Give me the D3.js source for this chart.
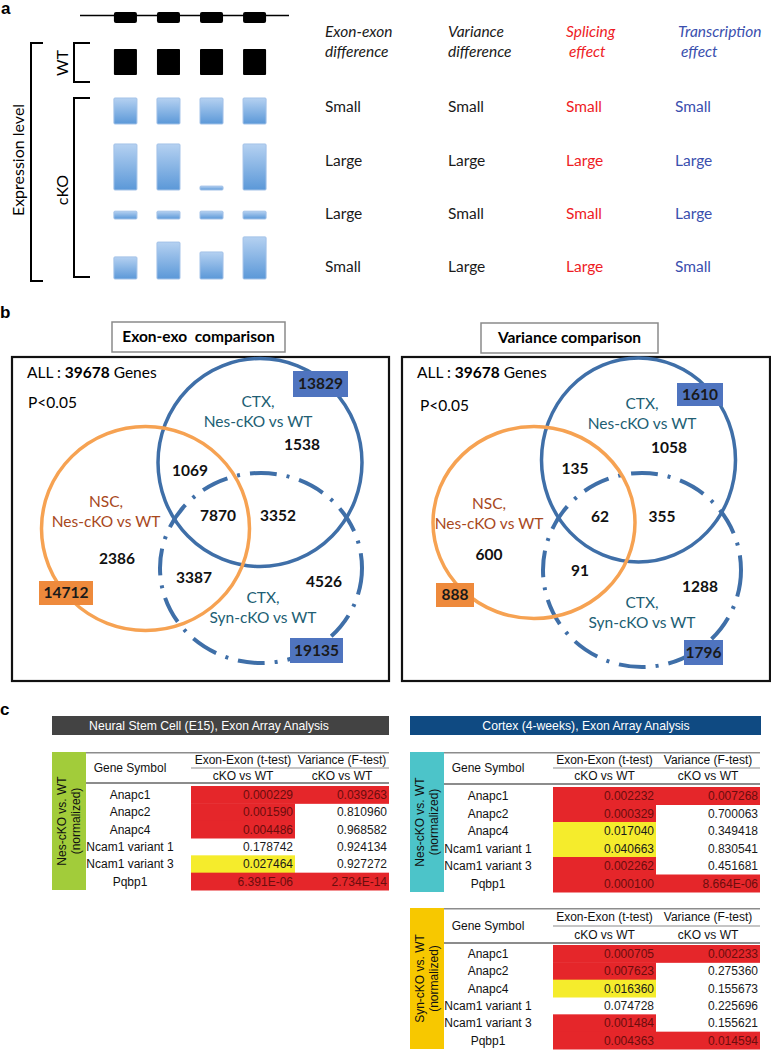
<!DOCTYPE html>
<html><head><meta charset="utf-8">
<script src="https://cdn.jsdelivr.net/npm/d3@7"></script>
<style>body{margin:0;background:#fff} svg{display:block}</style>
</head><body>
<svg id="fig" width="771" height="1050"></svg>
<script>
// ================= DATA =================
// Panel a: exon expression levels (relative units)
const exons = ["E1", "E2", "E3", "E4"];
const wtLevels = [1, 1, 1, 1];
const ckoRow1 = [1, 1, 1, 1];
const ckoRow2 = [1.77, 1.77, 0.15, 1.77];
const ckoRow3 = [0.3, 0.3, 0.3, 0.3];
const ckoRow4 = [0.85, 1.42, 1.04, 1.62];
const effectHeaders = [["Exon-exon", "difference"], ["Variance", "difference"], ["Splicing", "effect"], ["Transcription", "effect"]];
const exonDiff = ["Small", "Large", "Large", "Small"];
const varianceDiff = ["Small", "Large", "Small", "Large"];
const splicingEffect = ["Small", "Large", "Small", "Large"];
const transcriptionEffect = ["Small", "Large", "Large", "Small"];

// Panel b: Venn diagrams
const totalGenes = "39678";
const pThreshold = "P<0.05";
const setNames = [["NSC,", "Nes-cKO vs WT"], ["CTX,", "Nes-cKO vs WT"], ["CTX,", "Syn-cKO vs WT"]];
const regionKeys = ["NSC", "Nes", "Syn", "NSC&Nes", "Nes&Syn", "NSC&Syn", "All"];
const exonRegionCounts = [2386, 1538, 4526, 1069, 3352, 3387, 7870];
const exonSetTotals = [14712, 13829, 19135];
const varRegionCounts = [600, 1058, 1288, 135, 355, 91, 62];
const varSetTotals = [888, 1610, 1796];

// Panel c: tables
const genes = ["Anapc1", "Anapc2", "Anapc4", "Ncam1 variant 1", "Ncam1 variant 3", "Pqbp1"];
const nscExon = ["0.000229", "0.001590", "0.004486", "0.178742", "0.027464", "6.391E-06"];
const nscExonHi = ["r", "r", "r", "", "y", "r"];
const nscVar = ["0.039263", "0.810960", "0.968582", "0.924134", "0.927272", "2.734E-14"];
const nscVarHi = ["r", "", "", "", "", "r"];
const nesExon = ["0.002232", "0.000329", "0.017040", "0.040663", "0.002262", "0.000100"];
const nesExonHi = ["r", "r", "y", "y", "r", "r"];
const nesVar = ["0.007268", "0.700063", "0.349418", "0.830541", "0.451681", "8.664E-06"];
const nesVarHi = ["r", "", "", "", "", "r"];
const synExon = ["0.000705", "0.007623", "0.016360", "0.074728", "0.001484", "0.004363"];
const synExonHi = ["r", "r", "y", "", "r", "r"];
const synVar = ["0.002233", "0.275360", "0.155673", "0.225696", "0.155621", "0.014594"];
const synVarHi = ["r", "", "", "", "", "r"];

// ================= DRAWING =================
const svg = d3.select("#fig");
const CAL = "Lato, 'Open Sans', sans-serif";
const ARI = "'Liberation Sans', Arial, sans-serif";
const defs = svg.append("defs");
const grad = defs.append("linearGradient").attr("id", "blueGrad").attr("x1", 0).attr("y1", 0).attr("x2", 0).attr("y2", 1);
grad.append("stop").attr("offset", "0%").attr("stop-color", "#b5d1f1");
grad.append("stop").attr("offset", "100%").attr("stop-color", "#5b98d8");

// panel letters
[["a", 1, 14], ["b", 0, 318], ["c", 0, 715]].forEach(([t, x, y]) =>
  svg.append("text").attr("x", x).attr("y", y).text(t)
    .attr("font-family", ARI).attr("font-weight", "bold").attr("font-size", 17));

// ---- Panel a
const gA = svg.append("g");
const xEx = d3.scaleBand().domain(exons).range([101, 279]).paddingInner(0.465).paddingOuter(0.3);
const yLvl = d3.scaleLinear().domain([0, 1]).range([0, 26]);

// gene model
gA.append("line").attr("x1", 80).attr("x2", 289).attr("y1", 15.5).attr("y2", 15.5).attr("stroke", "#000").attr("stroke-width", 1.6);
gA.selectAll("rect.gm").data(exons).join("rect").attr("class", "gm")
  .attr("x", d => xEx(d)).attr("width", xEx.bandwidth()).attr("y", 12).attr("height", 11)
  .attr("rx", 2).attr("fill", "#000");

// brackets
const br = (x0, x1, y0, y1) => gA.append("path").attr("d", `M${x1},${y0}H${x0}V${y1}H${x1}`)
  .attr("fill", "none").attr("stroke", "#000").attr("stroke-width", 2);
br(31, 43, 43, 281);
br(74, 90, 43, 82);
br(74, 90, 98, 277);
const rot = (txt, x, y) => gA.append("text").attr("transform", `translate(${x},${y}) rotate(-90)`)
  .attr("text-anchor", "middle").attr("dy", "0.35em").attr("font-family", CAL).attr("font-size", 16).text(txt);
rot("Expression  level", 18, 160);
rot("WT", 62, 63);
rot("cKO", 62, 190);

// WT boxes
gA.selectAll("rect.wt").data(wtLevels).join("rect").attr("class", "wt")
  .attr("x", (d, i) => xEx(exons[i])).attr("width", xEx.bandwidth())
  .attr("y", d => 75 - yLvl(d)).attr("height", d => yLvl(d)).attr("fill", "#000").attr("rx", 1);

// cKO boxes
const ckoRows = [[ckoRow1, 124], [ckoRow2, 190], [ckoRow3, 219], [ckoRow4, 279]];
ckoRows.forEach(([row, base], ri) => {
  gA.selectAll(`rect.ck${ri}`).data(row).join("rect").attr("class", `ck${ri}`)
    .attr("x", (d, i) => xEx(exons[i])).attr("width", xEx.bandwidth())
    .attr("y", d => base - yLvl(d)).attr("height", d => yLvl(d))
    .attr("fill", "url(#blueGrad)").attr("stroke", "#a3c2e8").attr("stroke-width", 1).attr("rx", 1);
});

// effect table
const colX = [325, 448, 566, 678];
const hdrColors = ["#1a1a1a", "#1a1a1a", "#ee1c25", "#3a4fae"];
effectHeaders.forEach((h, i) => {
  h.forEach((line, li) => gA.append("text").attr("x", colX[i] + (li === 1 && i >= 2 ? 3 : 0)).attr("y", 32 + li * 20)
    .attr("dy", "0.35em").attr("font-family", CAL).attr("font-style", "italic").attr("font-size", 15.5)
    .attr("fill", hdrColors[i]).text(line));
});
const rowY = d3.scalePoint().domain(d3.range(4)).range([107, 267]);
[exonDiff, varianceDiff, splicingEffect, transcriptionEffect].forEach((col, ci) => {
  gA.selectAll(`text.c${ci}`).data(col).join("text").attr("class", `c${ci}`)
    .attr("x", colX[ci] - (ci === 3 ? 3 : 0)).attr("y", (d, i) => rowY(i)).attr("dy", "0.35em")
    .attr("font-family", CAL).attr("font-size", 15.5).attr("fill", hdrColors[ci]).text(d => d);
});

// ---- Panel b
function venn(cfg, regionCounts, setTotals, title) {
  const g = svg.append("g");
  // title box
  g.append("rect").attr("x", cfg.title[0]).attr("y", cfg.title[1]).attr("width", cfg.title[2]).attr("height", cfg.title[3])
    .attr("fill", "#fff").attr("stroke", "#8a8a8a").attr("stroke-width", 1.5);
  g.append("text").attr("x", cfg.title[0] + cfg.title[2] / 2).attr("y", cfg.title[1] + cfg.title[3] / 2).attr("dy", "0.35em")
    .attr("text-anchor", "middle").attr("font-family", CAL).attr("font-weight", "bold").attr("font-size", 15.5)
    .attr("xml:space", "preserve").style("white-space", "pre").text(title);
  // main box
  g.append("rect").attr("x", cfg.box[0]).attr("y", cfg.box[1]).attr("width", cfg.box[2]).attr("height", cfg.box[3])
    .attr("fill", "none").attr("stroke", "#111").attr("stroke-width", 2.2);
  const all = g.append("text").attr("x", cfg.all[0]).attr("y", cfg.all[1]).attr("dy", "0.35em")
    .attr("font-family", CAL).attr("font-size", 15.5);
  all.append("tspan").text("ALL : ");
  all.append("tspan").attr("font-weight", "bold").text(totalGenes);
  all.append("tspan").text(" Genes");
  g.append("text").attr("x", cfg.p[0]).attr("y", cfg.p[1]).attr("dy", "0.35em")
    .attr("font-family", CAL).attr("font-size", 15.5).text(pThreshold);
  // circles
  const [co, cb, cd] = cfg.circles;
  g.append("ellipse").attr("cx", cd[0]).attr("cy", cd[1]).attr("rx", cd[2]).attr("ry", cd[3])
    .attr("fill", "none").attr("stroke", "#3f6fa8").attr("stroke-width", 4).attr("stroke-dasharray", "27 10 3 10");
  g.append("ellipse").attr("cx", cb[0]).attr("cy", cb[1]).attr("rx", cb[2]).attr("ry", cb[3])
    .attr("fill", "none").attr("stroke", "#3f6fa8").attr("stroke-width", 3.5);
  g.append("ellipse").attr("cx", co[0]).attr("cy", co[1]).attr("rx", co[2]).attr("ry", co[3])
    .attr("fill", "none").attr("stroke", "#f6a252").attr("stroke-width", 3.5);
  // set labels
  const labColors = ["#a8481c", "#215e73", "#215e73"];
  setNames.forEach((nm, i) => {
    nm.forEach((line, li) => g.append("text").attr("x", cfg.labels[i][0]).attr("y", cfg.labels[i][1] + li * 20).attr("dy", "0.35em")
      .attr("text-anchor", "middle").attr("font-family", CAL).attr("font-size", 15.5).attr("fill", labColors[i]).text(line));
  });
  // region counts
  g.selectAll("text.rc").data(regionCounts).join("text").attr("class", "rc")
    .attr("x", (d, i) => cfg.regions[i][0]).attr("y", (d, i) => cfg.regions[i][1]).attr("dy", "0.35em")
    .attr("text-anchor", "middle").attr("font-family", CAL).attr("font-weight", "bold").attr("font-size", 15.5)
    .attr("fill", "#111").text(d => d);
  // set totals boxes
  const boxFill = ["#ee8a3c", "#4f74bf", "#4f74bf"];
  setTotals.forEach((v, i) => {
    const b = cfg.totals[i];
    g.append("rect").attr("x", b[0]).attr("y", b[1]).attr("width", b[2]).attr("height", b[3]).attr("fill", boxFill[i]);
    g.append("text").attr("x", b[0] + b[2] / 2).attr("y", b[1] + b[3] / 2).attr("dy", "0.35em").attr("text-anchor", "middle")
      .attr("font-family", CAL).attr("font-weight", "bold").attr("font-size", 15.5).attr("fill", "#1a1a1a").text(v);
  });
}

venn({
  title: [112, 322, 173, 30], box: [12, 357, 377, 324], all: [27, 373], p: [28, 403],
  circles: [[145.5, 528.5, 104, 102], [260, 462.5, 102, 104], [261, 568, 101, 95]],
  labels: [[106, 502], [258, 402], [263, 598]],
  regions: [[117, 559], [302, 445], [324, 582], [190, 471], [278, 516], [194, 578], [218, 516]],
  totals: [[39, 581, 54, 24], [293, 371, 55, 26], [290, 638, 53, 25]]
}, exonRegionCounts, exonSetTotals, "Exon-exo  comparison");

venn({
  title: [481, 323, 177, 30], box: [402, 357, 368, 324], all: [417, 373], p: [420, 406],
  circles: [[534, 522.5, 101, 96], [638.5, 460, 97, 102], [642, 570, 99, 97]],
  labels: [[489, 504], [642, 404], [642, 603]],
  regions: [[489, 555], [669, 448], [700, 587], [575, 469], [662, 517], [580, 571], [600, 517]],
  totals: [[436, 583, 38, 24], [677, 383, 46, 23], [684, 640, 39, 25]]
}, varRegionCounts, varSetTotals, "Variance comparison");

// ---- Panel c
function headerBar(x0, x1, y, fill, txt, tx) {
  svg.append("rect").attr("x", x0).attr("y", y).attr("width", x1 - x0).attr("height", 19).attr("fill", fill);
  svg.append("text").attr("x", tx).attr("y", y + 9.5).attr("dy", "0.36em").attr("text-anchor", "middle")
    .attr("font-family", ARI).attr("font-size", 12.2).attr("fill", "#fff").text(txt);
}
headerBar(52, 389, 716, "#434343", "Neural Stem Cell (E15), Exon Array Analysis", 209);
headerBar(410, 761, 716, "#0f4a82", "Cortex (4-weeks), Exon Array Analysis", 586);

function table(t, exVals, exHi, vVals, vHi, sideLabel) {
  const g = svg.append("g");
  const hiCol = { r: "#e5262a", y: "#f5ec2c" };
  const rowsY = d3.scaleBand().domain(genes).range([t.rowTop, t.bottom]);
  // sidebar
  g.append("rect").attr("x", t.sx0).attr("y", t.top).attr("width", t.sx1 - t.sx0).attr("height", t.bottom - t.top).attr("fill", t.sideFill);
  const sc = (t.sx0 + t.sx1) / 2, my = (t.top + t.bottom) / 2;
  sideLabel.forEach((ln, i) => g.append("text").attr("transform", `translate(${sc - 7 + i * 14},${my}) rotate(-90)`)
    .attr("text-anchor", "middle").attr("dy", "0.35em").attr("font-family", ARI).attr("font-size", 12).attr("fill", "#111").text(ln));
  // highlight cells
  const cell = (vals, hi, x0, x1) => {
    g.selectAll(null).data(vals).join("rect").filter((d, i) => hi[i])
      .attr("x", x0).attr("width", x1 - x0).attr("y", (d, i) => rowsY(genes[vals.indexOf(d)]))
      .attr("height", rowsY.bandwidth() + 0.5).attr("fill", (d) => hiCol[hi[vals.indexOf(d)]]);
    g.selectAll(null).data(vals).join("text").attr("x", x1 - 2).attr("y", (d, i) => rowsY(genes[i]) + rowsY.bandwidth() / 2)
      .attr("dy", "0.36em").attr("text-anchor", "end").attr("font-family", ARI).attr("font-size", 12)
      .attr("fill", (d, i) => hi[i] === "r" ? "#6b0d0d" : "#1a1a1a").text(d => d);
  };
  cell(exVals, exHi, t.ex0, t.v0);
  cell(vVals, vHi, t.v0, t.x1);
  // gene names
  g.selectAll(null).data(genes).join("text").attr("x", t.gc).attr("y", d => rowsY(d) + rowsY.bandwidth() / 2)
    .attr("dy", "0.36em").attr("text-anchor", "middle").attr("font-family", ARI).attr("font-size", 12).attr("fill", "#111").text(d => d);
  // header lines
  g.append("line").attr("x1", t.sx1).attr("x2", t.x1).attr("y1", t.top + 0.75).attr("y2", t.top + 0.75).attr("stroke", "#8c8c8c").attr("stroke-width", 1.5);
  g.append("line").attr("x1", t.ex0).attr("x2", t.x1).attr("y1", t.mid).attr("y2", t.mid).attr("stroke", "#8c8c8c").attr("stroke-width", 1.2);
  g.append("line").attr("x1", t.sx1).attr("x2", t.x1).attr("y1", t.hb).attr("y2", t.hb).attr("stroke", "#8c8c8c").attr("stroke-width", 2);
  const ht = (txt, x, y) => g.append("text").attr("x", x).attr("y", y).attr("dy", "0.36em").attr("text-anchor", "middle")
    .attr("font-family", ARI).attr("font-size", 12).attr("fill", "#111").text(txt);
  ht("Gene Symbol", t.gc, (t.top + t.hb) / 2);
  ht("Exon-Exon (t-test)", (t.ex0 + t.v0) / 2, (t.top + t.mid) / 2);
  ht("Variance (F-test)", (t.v0 + t.x1) / 2, (t.top + t.mid) / 2);
  ht("cKO vs WT", (t.ex0 + t.v0) / 2, (t.mid + t.hb) / 2);
  ht("cKO vs WT", (t.v0 + t.x1) / 2, (t.mid + t.hb) / 2);
}

table({ sx0: 52, sx1: 86, top: 752, mid: 768, hb: 783, rowTop: 786, bottom: 890, gc: 130, ex0: 191, v0: 295, x1: 389, sideFill: "#a2cc3a" },
  nscExon, nscExonHi, nscVar, nscVarHi, ["Nes-cKO vs. WT", "(normalized)"]);
table({ sx0: 410, sx1: 444, top: 752, mid: 768, hb: 784, rowTop: 787, bottom: 892, gc: 488, ex0: 553, v0: 656, x1: 760, sideFill: "#4cc4c9" },
  nesExon, nesExonHi, nesVar, nesVarHi, ["Nes-cKO vs. WT", "(normalized)"]);
table({ sx0: 410, sx1: 444, top: 908, mid: 926, hb: 943, rowTop: 945, bottom: 1049, gc: 488, ex0: 553, v0: 656, x1: 760, sideFill: "#f7c800" },
  synExon, synExonHi, synVar, synVarHi, ["Syn-cKO vs. WT", "(normalized)"]);
</script>
</body></html>
